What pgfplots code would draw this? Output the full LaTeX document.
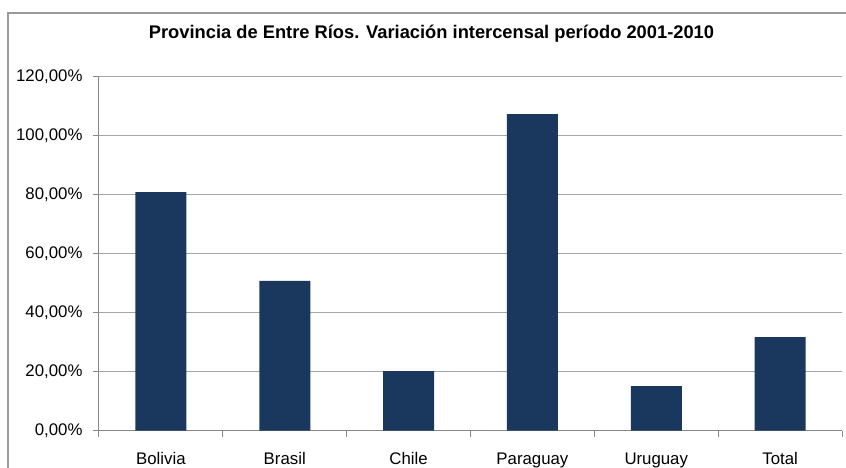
\documentclass[border=0pt]{standalone}
\usepackage{pgfplots}
\pgfplotsset{compat=1.18}
\usepackage{fontspec}
\setmainfont{Liberation Sans}
\definecolor{barc}{HTML}{1A375E}
\definecolor{gridc}{HTML}{A6A6A6}
\definecolor{axc}{HTML}{888888}
\definecolor{framec}{HTML}{9A9A9A}
\begin{document}
\begin{tikzpicture}
\path[use as bounding box] (0,0) rectangle (846pt,-468pt);
\clip (0,0) rectangle (846pt,-468pt);
\draw[color=framec, line width=1.6pt] (8pt,-13pt) rectangle (900pt,-520pt);
\node[font=\bfseries\fontsize{18.3}{21}\selectfont] at (431.5pt,-34pt) {Provincia de Entre Ríos. Variación intercensal período 2001-2010};
\begin{axis}[
  at={(99pt,-430.7pt)}, anchor=south west,
  scale only axis, width=743pt, height=354.4pt,
  xmin=-0.5, xmax=5.5, ymin=0, ymax=120,
  ytick={0,20,...,120},
  yticklabels={{0,00\%},{20,00\%},{40,00\%},{60,00\%},{80,00\%},{100,00\%},{120,00\%}},
  yticklabel style={xshift=-7pt},
  ymajorgrids, grid style={gridc, line width=1pt},
  axis lines*=left,
  axis line style={axc, line width=1pt},
  tick style={axc, line width=1pt},
  major tick length=6pt, tick align=outside,
  xtick={-0.5,0.5,...,5.5}, xticklabels={},
  extra x ticks={0,1,2,3,4,5},
  extra x tick labels={Bolivia,Brasil,Chile,Paraguay,Uruguay,Total},
  extra x tick style={tick style={draw=none}, xticklabel style={yshift=-12pt, text height=12pt, text depth=3.5pt}},
  ticklabel style={font=\fontsize{16.8}{19}\selectfont},
  ybar, bar width=51pt,
]
\addplot[fill=barc, draw=none] coordinates {(0,80.8) (1,50.7) (2,20.2) (3,107.2) (4,15.1) (5,31.7)};
\end{axis}
\end{tikzpicture}
\end{document}
